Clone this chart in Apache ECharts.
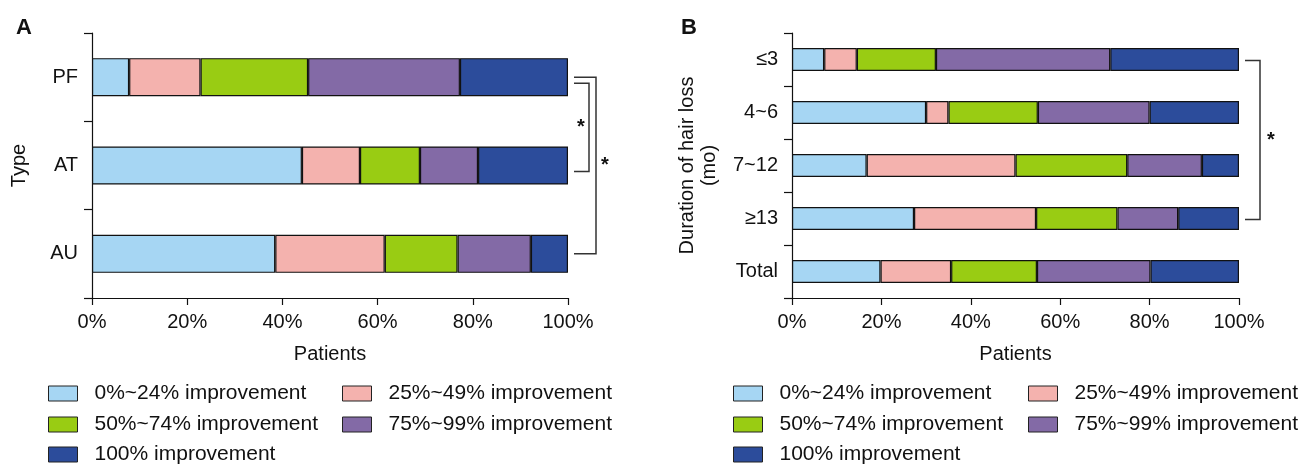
<!DOCTYPE html>
<html>
<head>
<meta charset="utf-8">
<script src="https://cdn.jsdelivr.net/npm/echarts@6/dist/echarts.min.js"></script>
<style>
  html, body { margin: 0; padding: 0; background: #fff; }
  #chart { width: 1299px; height: 464px; }
</style>
</head>
<body>
<div id="chart"></div>
<script>
// panel A: by type
const typeCats = ['PF', 'AT', 'AU']
const typeImp0 = [7.8, 44.1, 38.5]
const typeImp25 = [15.0, 12.2, 23.0]
const typeImp50 = [22.6, 12.6, 15.3]
const typeImp75 = [31.9, 12.2, 15.4]
const typeImp100 = [22.7, 18.9, 7.8]

// panel B: by duration of hair loss
const durCats = ['≤3', '4~6', '7~12', '≥13', 'Total']
const durImp0 = [7.2, 30.0, 16.7, 27.3, 19.8]
const durImp25 = [7.3, 5.0, 33.3, 27.3, 15.8]
const durImp50 = [17.7, 20.0, 25.0, 18.2, 19.2]
const durImp75 = [39.0, 25.0, 16.7, 13.6, 25.4]
const durImp100 = [28.8, 20.0, 8.3, 13.6, 19.8]

const levelNames = ['0%~24% improvement', '25%~49% improvement', '50%~74% improvement',
  '75%~99% improvement', '100% improvement']
const levelColors = ['#a6d6f3', '#f4b2ae', '#99cc13', '#836aa6', '#2c4c9b']

const xTicks = [0, 20, 40, 60, 80, 100]

const font = 'Liberation Sans, Arial, sans-serif'
const ink = '#111'

const myChart = echarts.init(document.getElementById('chart'))

function makeSeries(idx, arrays) {
    return arrays.map((arr, i) => ({
        name: levelNames[i],
        type: 'bar',
        stack: 'p' + idx,
        xAxisIndex: idx,
        yAxisIndex: idx,
        barWidth: idx === 0 ? 38 : 23,
        data: arr,
        itemStyle: { color: levelColors[i], borderColor: '#111', borderWidth: 1.2 },
        emphasis: { disabled: true }
    }))
}

function xAxisOf(idx) {
    return {
        gridIndex: idx,
        type: 'value',
        min: xTicks[0],
        max: xTicks[xTicks.length - 1],
        interval: 20,
        name: 'Patients',
        nameLocation: 'middle',
        nameGap: 46,
        nameTextStyle: { fontSize: 20, color: ink, fontFamily: font },
        axisLine: { show: true, lineStyle: { color: ink, width: 1.2 } },
        axisTick: { show: true, length: 7, lineStyle: { color: ink, width: 1.2 } },
        axisLabel: { formatter: '{value}%', fontSize: 20, color: ink, fontFamily: font, margin: 14 },
        splitLine: { show: false }
    }
}

function yAxisOf(idx, cats, name, gap) {
    return {
        gridIndex: idx,
        type: 'category',
        inverse: true,
        data: cats,
        name: name,
        nameLocation: 'middle',
        nameGap: gap,
        nameTextStyle: { fontSize: 20, color: ink, fontFamily: font, lineHeight: 22 },
        axisLine: { show: true, lineStyle: { color: ink, width: 1.2 } },
        axisTick: { show: true, length: 8, lineStyle: { color: ink, width: 1.2 } },
        axisLabel: { fontSize: 20, color: ink, fontFamily: font, margin: 14 },
        splitLine: { show: false }
    }
}

// one legend box per item so the two-column layout lines up
const legendSpots = [
    [48, 342], [733, 1028]
]
const legendRows = [383, 414, 444]
const legends = []
legendSpots.forEach(cols => {
    levelNames.forEach((n, i) => {
        legends.push({
            data: [{ name: n, icon: 'rect' }],
            left: cols[i % 2],
            top: legendRows[Math.floor(i / 2)],
            padding: 0,
            itemWidth: 29,
            itemHeight: 15,
            selectedMode: false,
            itemStyle: { borderColor: '#222', borderWidth: 1 },
            textStyle: { fontSize: 21, color: ink, fontFamily: font, padding: [0, 0, 0, 12] }
        })
    })
})

myChart.setOption({
    animation: false,
    title: [
        { text: 'A', left: 11, top: 12, textStyle: { fontSize: 22, fontWeight: 'bold', color: ink, fontFamily: font } },
        { text: 'B', left: 676, top: 12, textStyle: { fontSize: 22, fontWeight: 'bold', color: ink, fontFamily: font } }
    ],
    legend: legends,
    grid: [
        { left: 92, top: 33, width: 476, height: 265 },
        { left: 792, top: 33, width: 447, height: 265 }
    ],
    xAxis: [xAxisOf(0), xAxisOf(1)],
    yAxis: [
        yAxisOf(0, typeCats, 'Type', 62),
        yAxisOf(1, durCats, 'Duration of hair loss\n(mo)', 72)
    ],
    series: makeSeries(0, [typeImp0, typeImp25, typeImp50, typeImp75, typeImp100])
        .concat(makeSeries(1, [durImp0, durImp25, durImp50, durImp75, durImp100]))
})

// significance brackets, placed from the axes
const brackets = [
    { grid: 0, from: 'PF', to: 'AU', reach: 28, shift: 0 },
    { grid: 0, from: 'PF', to: 'AT', reach: 21, shift: 6 },
    { grid: 1, from: '≤3', to: '≥13', reach: 21, shift: 1 }
]
const graphics = []
brackets.forEach(b => {
    const p0 = myChart.convertToPixel({ gridIndex: b.grid }, [100, b.from])
    const p1 = myChart.convertToPixel({ gridIndex: b.grid }, [100, b.to])
    const x0 = p0[0] + 6
    const x1 = p0[0] + b.reach
    const y0 = p0[1] + b.shift
    const y1 = p1[1] + b.shift
    graphics.push({
        type: 'polyline',
        shape: { points: [[x0, y0], [x1, y0], [x1, y1], [x0, y1]] },
        style: { stroke: '#333', lineWidth: 1.5, fill: null }
    })
    graphics.push({
        type: 'text',
        x: x1 + (b.reach > 25 ? 9 : (b.grid === 0 ? -8 : 11)),
        y: (y0 + y1) / 2,
        style: { text: '*', fontSize: 20, fontWeight: 'bold', fill: ink, fontFamily: font, align: 'center', verticalAlign: 'middle' }
    })
})
myChart.setOption({ graphic: graphics })

window.addEventListener('resize', () => {
    if (myChart) myChart.resize()
})
</script>
</body>
</html>
